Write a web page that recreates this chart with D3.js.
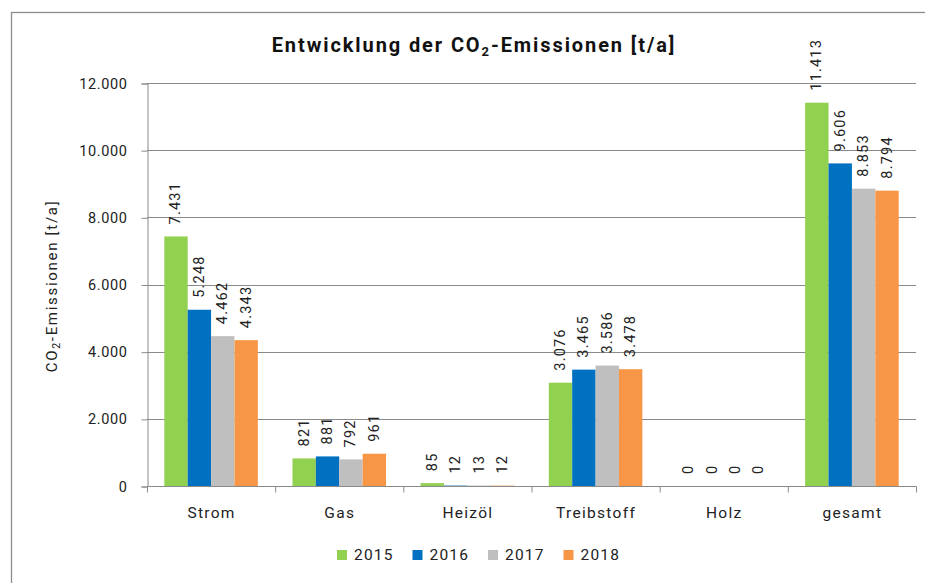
<!DOCTYPE html>
<html><head><meta charset="utf-8">
<script src="https://cdn.jsdelivr.net/npm/d3@7"></script>
<style>body{margin:0;background:#fff}svg{display:block}</style>
</head><body>
<svg id="c" width="925" height="583"></svg>
<script>
const categories = ["Strom","Gas","Heizöl","Treibstoff","Holz","gesamt"];
const years = ["2015","2016","2017","2018"];
const v2015 = [7431, 821, 85, 3076, 0, 11413];
const v2016 = [5248, 881, 12, 3465, 0, 9606];
const v2017 = [4462, 792, 13, 3586, 0, 8853];
const v2018 = [4343, 961, 12, 3478, 0, 8794];
const yTicks = [0,2000,4000,6000,8000,10000,12000];
const colors = ["#92d050","#0070c0","#bfbfbf","#f79646"];
const series = [v2015,v2016,v2017,v2018];

const loc = d3.formatLocale({decimal:",",thousands:".",grouping:[3],currency:["","€"]});
const fmt = loc.format(",d");

const svg = d3.select("#c");
const font = "Roboto, 'DejaVu Sans', sans-serif";

// outer frame
svg.append("rect").attr("x",11.5).attr("y",12.5).attr("width",940).attr("height",600)
  .attr("fill","none").attr("stroke","#8c8c8c").attr("stroke-width",1.3);

const L=147, R=916, T=83, B=486;
const x = d3.scaleBand().domain(categories).range([L,R]).paddingInner(0.27).paddingOuter(0.135);
const xs = d3.scaleBand().domain(years).range([0,x.bandwidth()]);
const y = d3.scaleLinear().domain([0,12000]).range([B,T]);

// gridlines
svg.append("g").selectAll("line").data(yTicks.filter(d=>d>0)).join("line")
  .attr("x1",L).attr("x2",R).attr("y1",d=>Math.round(y(d))+0.5).attr("y2",d=>Math.round(y(d))+0.5)
  .attr("stroke","#8a8a8a").attr("stroke-width",1);

// y axis
const ya = svg.append("g").attr("transform",`translate(${L+0.5},0.5)`)
  .call(d3.axisLeft(y).tickValues(yTicks).tickFormat(fmt).tickSize(6).tickPadding(14));
ya.select(".domain").attr("stroke","#8a8a8a");
ya.selectAll(".tick line").attr("stroke","#8a8a8a");
ya.selectAll("text").attr("font-family",font).attr("font-size",14.5).attr("fill","#222").attr("letter-spacing","0.6px");

// bars
const g = svg.append("g");
categories.forEach((c,i)=>{
  series.forEach((s,j)=>{
    const bx = x(c)+xs(years[j]);
    g.append("rect").attr("x",bx).attr("y",y(s[i])).attr("width",xs.bandwidth())
      .attr("height",B-y(s[i])).attr("fill",colors[j]);
    g.append("text")
      .attr("transform",`translate(${bx+xs.bandwidth()/2},${y(s[i])-12}) rotate(-90)`)
      .attr("text-anchor","start").attr("dominant-baseline","central")
      .attr("font-family",font).attr("font-size",14.5).attr("letter-spacing","1.2px").attr("fill","#222")
      .text(fmt(s[i]));
  });
});

// x axis
const band = d3.scaleBand().domain(categories).range([L,R]);
const xa = svg.append("g").attr("transform",`translate(0.5,${B+0.5})`)
  .call(d3.axisBottom(band).tickSize(0).tickPadding(20));
xa.select(".domain").attr("stroke","#8a8a8a").attr("d",`M${L},0H${R}`);
xa.selectAll("text").attr("font-family",font).attr("font-size",15.5).attr("fill","#222").attr("letter-spacing","1.3px");
const edges = categories.map(c=>band(c)).concat([R]);
xa.selectAll(".edge").data(edges).join("line").attr("class","edge")
  .attr("x1",d=>d).attr("x2",d=>d).attr("y1",0).attr("y2",6).attr("stroke","#8a8a8a");

// title
const t = svg.append("text").attr("x",474).attr("y",52).attr("text-anchor","middle")
  .attr("font-family",font).attr("font-weight","bold").attr("font-size",20).attr("fill","#111").attr("letter-spacing","1.9px");
t.append("tspan").text("Entwicklung der CO");
t.append("tspan").attr("font-size",13).attr("dy",4).text("2");
t.append("tspan").attr("dy",-4).text("-Emissionen [t/a]");

// y axis title
const yt = svg.append("text").attr("transform",`translate(57,286) rotate(-90)`).attr("text-anchor","middle")
  .attr("font-family",font).attr("font-size",15).attr("fill","#222").attr("letter-spacing","1.7px");
yt.append("tspan").text("CO");
yt.append("tspan").attr("font-size",10.5).attr("dy",3).text("2");
yt.append("tspan").attr("dy",-3).text("-Emissionen  [t/a]");

// legend
const lg = svg.append("g").attr("transform","translate(337,555)");
years.forEach((yr,j)=>{
  const gg = lg.append("g").attr("transform",`translate(${j*75.5},0)`);
  gg.append("rect").attr("x",0).attr("y",-5).attr("width",10).attr("height",10).attr("fill",colors[j]);
  gg.append("text").attr("x",17).attr("y",0).attr("dominant-baseline","central")
    .attr("font-family",font).attr("font-size",15.5).attr("fill","#222").attr("letter-spacing","1.2px").text(yr);
});
</script>
</body></html>
